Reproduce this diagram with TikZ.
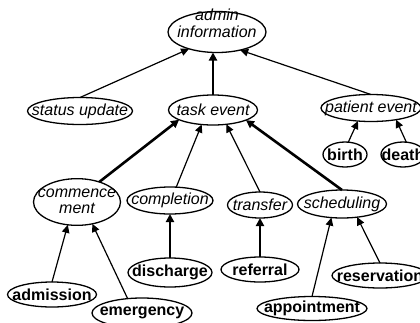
\documentclass[tikz,border=0pt]{standalone}
\usepackage{fontspec}
\setmainfont{Liberation Sans}
\usetikzlibrary{shapes.geometric,arrows.meta}

% labels are zero-width so every oval keeps its own size
\newcommand{\lbl}[1]{\makebox[0pt]{#1}}
\newcommand{\twolines}[2]{\makebox[0pt]{\begin{tabular}{@{}c@{}}#1\\#2\end{tabular}}}

\tikzset{
  oval/.style={ellipse, draw, line width=1.3pt, inner sep=0pt, outer sep=0pt,
    minimum width=#1},
  catnode/.style={oval=#1, font=\fontsize{16}{16.5}\selectfont\itshape},
  leafnode/.style={oval=#1, font=\fontsize{16}{16.5}\selectfont\bfseries},
  link/.style={line width=1.2pt, -{Triangle[length=8pt,width=7.5pt]}},
  strong/.style={line width=2.6pt, -{Triangle[length=8pt,width=8pt]}},
}

\begin{document}
\begin{tikzpicture}[x=1pt,y=-1pt]
\useasboundingbox (0,0) rectangle (420,322);

% upper levels
\node[catnode=98pt, minimum height=41pt] (admin) at (217,32) {\raisebox{2pt}[0pt][0pt]{\twolines{admin}{information}}};
\node[catnode=105pt, minimum height=27pt] (status) at (80,111) {\lbl{status update}};
\node[catnode=89pt, minimum height=30pt] (task) at (213,110) {\lbl{task event}};
\node[catnode=100pt, minimum height=27pt] (patient) at (371,108) {\lbl{patient event}};

% children of patient event
\node[leafnode=44pt, minimum height=25pt] (birth) at (345,154.5) {\lbl{birth}};
\node[leafnode=44pt, minimum height=25pt] (death) at (403,154.5) {\lbl{death}};

% children of task event
\node[catnode=87pt, minimum height=40pt] (comm) at (77,202) {\twolines{commence}{ment}};
\node[catnode=86pt, minimum height=27pt] (compl) at (170,200.5) {\lbl{completion}};
\node[catnode=65pt, minimum height=26pt] (transfer) at (260,205) {\lbl{transfer}};
\node[catnode=89pt, minimum height=28pt] (sched) at (342,204) {\lbl{scheduling}};

% leaves
\node[leafnode=84pt, minimum height=29pt] (disch) at (170,272.5) {\lbl{discharge}};
\node[leafnode=78pt, minimum height=25pt] (referral) at (260,269.5) {\lbl{referral}};
\node[leafnode=89pt, minimum height=25pt] (admission) at (52,294.5) {\lbl{admission}};
\node[leafnode=100pt, minimum height=30pt] (emerg) at (142,313) {\lbl{emergency}};
\node[leafnode=110pt, minimum height=24pt] (appt) at (312,308.5) {\lbl{appointment}};
\node[leafnode=96pt, minimum height=25pt] (reserv) at (380,275.5) {\lbl{reservation}};

% links, child to parent
\draw[link] (status.north) -- (admin.211);
\draw[strong] (task.north) -- (task.north |- admin.south);
\draw[link] (patient.north) -- (admin.322);

\draw[link] (birth.75) -- (patient.225);
\draw[link] (death.75) -- (patient.335);

\draw[strong] (comm.42) -- (task.196);
\draw[link] (compl.65) -- (task.232);
\draw[link] (transfer.north) -- (task.313);
\draw[strong] (sched.north) -- (task.343);

\draw[link] (admission.north) -- (comm.248);
\draw[link] (emerg.135) -- (comm.305);
\draw[strong] (disch) -- (compl);
\draw[strong] (referral) -- (transfer);
\draw[link] (appt.north) -- (sched.232);
\draw[link] (reserv.north) -- (sched.319);
\end{tikzpicture}
\end{document}
